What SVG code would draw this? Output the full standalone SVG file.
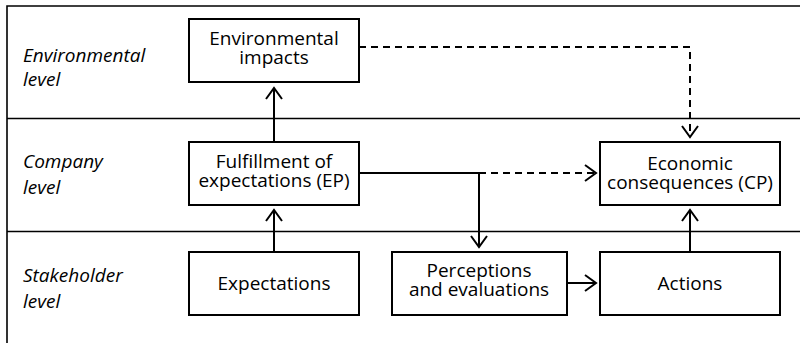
<svg xmlns="http://www.w3.org/2000/svg" width="800" height="343" viewBox="0 0 800 343">
<defs>
<style>
.box{fill:#fff;stroke:#000;stroke-width:2}
.t{font-family:"Open Sans","Noto Sans",sans-serif;font-size:19px;fill:#000;text-anchor:middle}
.lbl{font-family:"Open Sans","Noto Sans",sans-serif;font-size:19px;font-style:italic;fill:#000}
.frame{fill:none;stroke:#000;stroke-width:1.6}
.c{fill:none;stroke:#000;stroke-width:2}
.d{stroke-dasharray:7 5}
</style>
<marker id="ah" markerUnits="userSpaceOnUse" markerWidth="20" markerHeight="20" viewBox="-12 -10 14 20" refX="0" refY="0" orient="auto">
<path d="M-11,-8 L0,0 L-11,8" fill="none" stroke="#000" stroke-width="2"/>
</marker>
</defs>
<rect width="800" height="343" fill="#fff"/>
<g id="lanes">
<path class="frame" d="M801,6 H7 V343"/>
<path class="frame" d="M7,118.5 H801 M7,231.5 H801"/>
<text class="lbl" x="23" y="62">Environmental</text>
<text class="lbl" x="23" y="86">level</text>
<text class="lbl" x="23" y="168">Company</text>
<text class="lbl" x="23" y="194">level</text>
<text class="lbl" x="23" y="282">Stakeholder</text>
<text class="lbl" x="23" y="308">level</text>
</g>
<g id="connectors">
<path class="c" d="M274,142 V88" marker-end="url(#ah)"/>
<path class="c" d="M274,252 V210" marker-end="url(#ah)"/>
<path class="c" d="M359,173 H479 V247" marker-end="url(#ah)"/>
<path class="c d" d="M479,173 H596" marker-end="url(#ah)"/>
<path class="c d" d="M359,47 H690 V137" marker-end="url(#ah)"/>
<path class="c" d="M567,283 H596" marker-end="url(#ah)"/>
<path class="c" d="M690,252 V210" marker-end="url(#ah)"/>
</g>
<g id="env-impacts">
<rect class="box" x="189" y="19" width="170" height="63"/>
<text class="t" x="274" y="45">Environmental</text>
<text class="t" x="274" y="64">impacts</text>
</g>
<g id="fulfillment">
<rect class="box" x="189" y="142" width="170" height="63"/>
<text class="t" x="274" y="168">Fulfillment of</text>
<text class="t" x="274" y="187">expectations (EP)</text>
</g>
<g id="economic">
<rect class="box" x="600" y="142" width="180" height="63"/>
<text class="t" x="690" y="170">Economic</text>
<text class="t" x="690" y="189">consequences (CP)</text>
</g>
<g id="expectations">
<rect class="box" x="189" y="252" width="170" height="63"/>
<text class="t" x="274" y="290">Expectations</text>
</g>
<g id="perceptions">
<rect class="box" x="392" y="252" width="175" height="63"/>
<text class="t" x="479" y="277">Perceptions</text>
<text class="t" x="479" y="296">and evaluations</text>
</g>
<g id="actions">
<rect class="box" x="600" y="252" width="180" height="63"/>
<text class="t" x="690" y="290">Actions</text>
</g>
</svg>
